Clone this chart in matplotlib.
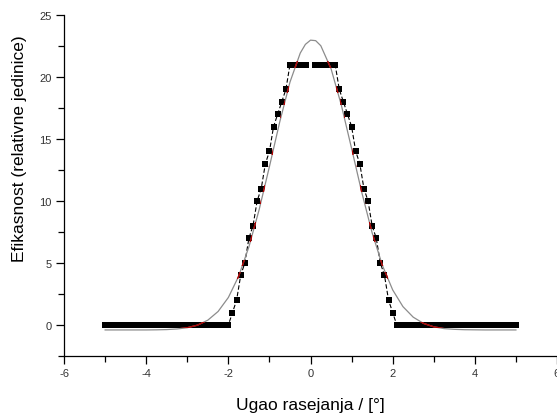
import matplotlib
matplotlib.use('Agg')
import matplotlib.pyplot as plt
import numpy as np
from matplotlib.path import Path
from matplotlib.ticker import MultipleLocator

plt.rcParams['font.family'] = ['Liberation Sans', 'DejaVu Sans']
plt.rcParams['axes.unicode_minus'] = False

# measured points, x from -5.0 to 5.0 step 0.1 (no point at 0)
x_data = np.round(np.linspace(-5.0, 5.0, 101), 1)
y_data = ([0] * 31 +
          [1, 2, 4, 5, 7, 8, 10, 11, 13, 14, 16, 17, 18, 19] +
          [21, 21, 21, 21, 21] +
          [np.nan] +
          [21, 21, 21, 21, 21, 21] +
          [19, 18, 17, 16, 14, 13, 11, 10, 8, 7, 5, 4, 2, 1] +
          [0] * 30)

# fitted curve
x_fit = [-5.0, -4.75, -4.5, -4.25, -4.0, -3.75, -3.5, -3.25, -3.0, -2.75,
         -2.5, -2.25, -2.0, -1.75, -1.5, -1.25, -1.0, -0.75, -0.5, -0.25,
         -0.125, 0.0, 0.125, 0.25, 0.5, 0.75, 1.0, 1.25, 1.5, 1.75, 2.0, 2.25,
         2.5, 2.75, 3.0, 3.25, 3.5, 3.75, 4.0, 4.25, 4.5, 4.75, 5.0]
y_fit = [-0.40, -0.40, -0.40, -0.40, -0.40, -0.39, -0.37, -0.32, -0.22, -0.01,
         0.39, 1.09, 2.22, 3.93, 6.30, 9.31, 12.78, 16.37, 19.59, 21.93,
         22.63, 22.97, 22.93, 22.52, 20.66, 17.73, 14.23, 10.66, 7.43, 4.80, 2.83, 1.48,
         0.63, 0.13, -0.15, -0.29, -0.35, -0.38, -0.39, -0.40, -0.40, -0.40, -0.40]

fig = plt.figure(figsize=(5.57, 4.14), dpi=100)
ax = fig.add_axes([0.115, 0.1377, 0.885, 0.8237])
ax.set_xlim(-6, 6)
ax.set_ylim(-2.5, 25)

ms = 5.0
ax.plot(x_data, y_data, color='black', linestyle=(0, (4, 2)), linewidth=0.8,
        marker='s', markersize=ms, markeredgewidth=0, zorder=2)
ax.plot(x_fit, y_fit, color='#8c8c8c', linewidth=0.9, zorder=3)

# where the fit crosses the black squares it shows up red
red, = ax.plot(x_fit, y_fit, color='#b00000', linewidth=1.0, zorder=4)
fig.canvas.draw()
p0 = ax.transData.transform((0, 0))
p1 = ax.transData.transform((1, 1))
half_px = ms * fig.dpi / 72 / 2
hx = half_px / (p1[0] - p0[0])
hy = half_px / (p1[1] - p0[1])
rects = []
for xv, yv in zip(x_data, y_data):
    if np.isnan(yv):
        continue
    rects.append(Path([(xv - hx, yv - hy), (xv + hx, yv - hy), (xv + hx, yv + hy),
                       (xv - hx, yv + hy), (xv - hx, yv - hy)], closed=True))
red.set_clip_path(Path.make_compound_path(*rects), ax.transData)

ax.spines['top'].set_visible(False)
ax.spines['right'].set_visible(False)
ax.spines['left'].set_linewidth(0.9)
ax.spines['bottom'].set_linewidth(0.9)

ax.xaxis.set_major_locator(MultipleLocator(2))
ax.xaxis.set_minor_locator(MultipleLocator(1))
ax.yaxis.set_major_locator(MultipleLocator(5))
ax.yaxis.set_minor_locator(MultipleLocator(2.5))
ax.tick_params(which='major', direction='out', length=6, width=0.9,
               labelsize=8, labelcolor='#333333', pad=3)
ax.tick_params(which='minor', direction='out', length=4, width=0.9)

ax.set_xlabel('Ugao rasejanja / [°]', fontsize=12.5)
ax.set_ylabel('Efikasnost (relativne jedinice)', fontsize=12.5)
ax.xaxis.set_label_coords(0.5, -0.12)
ax.yaxis.set_label_coords(-0.075, 0.61)

fig.savefig('out.png', dpi=100)
